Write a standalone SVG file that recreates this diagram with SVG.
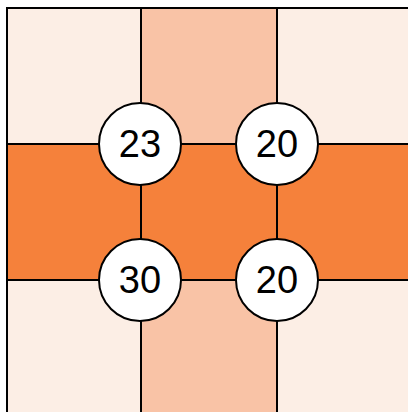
<svg xmlns="http://www.w3.org/2000/svg" width="408" height="412" viewBox="0 0 408 412">
<style>
.c{stroke:#000;stroke-width:2}
.l{fill:#FCEEE5}.m{fill:#F9C3A6}.o{fill:#F5813B}
.n circle{fill:#fff;stroke:#000;stroke-width:2}
.n text{font-family:"Liberation Sans",Arial,sans-serif;font-size:38px;fill:#000;text-anchor:middle;dominant-baseline:central}
</style>
<rect width="408" height="412" fill="#fff"/>
<g id="cells">
<rect class="c l" x="7" y="8" width="134" height="136"/>
<rect class="c m" x="141" y="8" width="136" height="136"/>
<rect class="c l" x="277" y="8" width="140" height="136"/>
<rect class="c o" x="7" y="144" width="134" height="136"/>
<rect class="c o" x="141" y="144" width="136" height="136"/>
<rect class="c o" x="277" y="144" width="140" height="136"/>
<rect class="c l" x="7" y="280" width="134" height="140"/>
<rect class="c m" x="141" y="280" width="136" height="140"/>
<rect class="c l" x="277" y="280" width="140" height="140"/>
</g>
<g id="n1" class="n"><circle cx="140" cy="144" r="41"/><text x="140" y="144">23</text></g>
<g id="n2" class="n"><circle cx="277" cy="144" r="41"/><text x="277" y="144">20</text></g>
<g id="n3" class="n"><circle cx="140" cy="280" r="41"/><text x="140" y="280">30</text></g>
<g id="n4" class="n"><circle cx="277" cy="280" r="41"/><text x="277" y="280">20</text></g>
</svg>
